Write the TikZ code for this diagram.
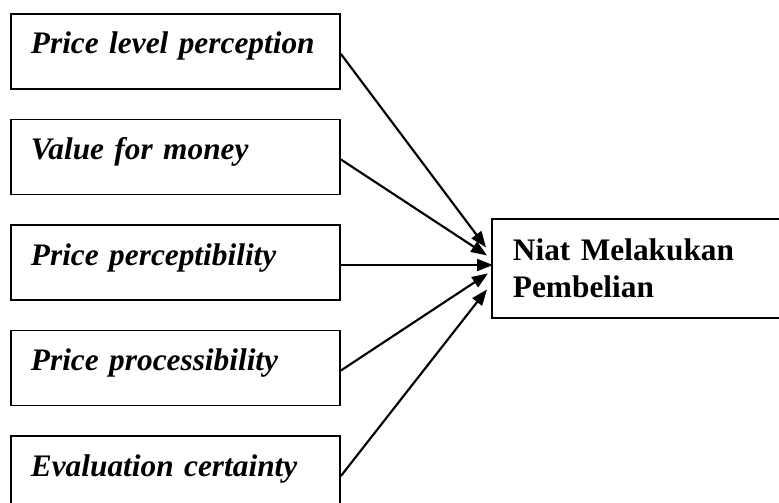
\documentclass[tikz,border=0pt]{standalone}
\usepackage{fontspec}
\setmainfont{Liberation Serif}
\usetikzlibrary{positioning,arrows.meta,calc}
\tikzset{
  factor/.style={draw, line width=1.4pt, text width=231.75pt, align=left,
    inner xsep=7.5pt, inner ysep=0pt, text height=30pt, text depth=26.25pt,
    execute at begin node={\hspace*{7.5pt}},
    font=\fontsize{23.5}{28}\selectfont\bfseries\itshape},
  goal/.style={draw, line width=1.4pt, text width=193.5pt, align=left,
    inner xsep=15.75pt, minimum height=74.25pt,
    font=\fontsize{23.5}{27.75}\selectfont\bfseries},
  link/.style={line width=1.6pt, -{Triangle[length=12pt,width=9pt]}}
}
\begin{document}
\begin{tikzpicture}[x=0.75pt,y=-0.75pt]
\useasboundingbox (0,0) rectangle (779,503);
% faktor harga
\node[factor, anchor=north west] (level) at (10,13) {Price level perception};
\node[factor, below=21.5pt of level] (value) {Value for money};
\node[factor, below=21.5pt of value] (percept) {Price perceptibility};
\node[factor, below=21.5pt of percept] (process) {Price processibility};
\node[factor, below=21.5pt of process] (certain) {Evaluation certainty};
% variabel terikat
\node[goal, anchor=north west] (niat) at (491,218) {Niat Melakukan\\Pembelian};
\draw[link] (level.base east) -- ($(niat.west)+(-5,-21)$);
\draw[link] (value.base east) -- ($(niat.west)+(-4,-13)$);
\draw[link] (percept.base east) -- ($(percept.base east -| niat.west)+(2,0)$);
\draw[link] (process.base east) -- ($(niat.west)+(-3,5)$);
\draw[link] (certain.base east) -- ($(niat.west)+(-4,21)$);
\end{tikzpicture}
\end{document}
